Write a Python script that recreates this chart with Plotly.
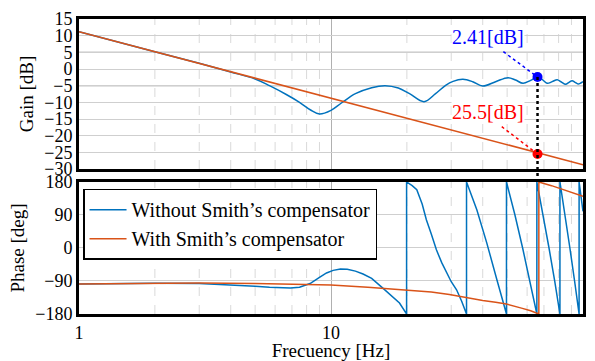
import numpy as np
import plotly.graph_objects as go

# ---------------- data ----------------
freq_gain_blue = [1, 2, 3, 4, 5, 5.7, 6.7, 7.5, 8.3, 9.0, 10, 11, 12.5, 14.5, 16.4,
                  18.5, 20.5, 23.4, 26, 28.5, 30.5, 33.4, 36.5, 40, 45, 50.4, 54,
                  57.8, 62, 66, 69, 72, 75.5, 79, 82, 85.3, 88, 90.5, 93, 95.6, 98, 100]
gain_blue = [11.2, 5.2, 1.7, -0.9, -3.0, -5.0, -7.8, -10.0, -12.3, -13.5, -12.4, -10.2,
             -7.4, -5.6, -5.0, -5.7, -7.4, -9.8, -7.4, -4.9, -3.7, -3.1, -3.8, -5.1,
             -3.8, -2.6, -3.3, -4.3, -3.4, -2.41, -3.2, -4.3, -3.8, -3.2, -3.9, -4.6,
             -4.0, -3.5, -4.0, -4.5, -4.2, -3.8]

freq_gain_red = [1, 10, 100]
gain_red = [11.2, -8.75, -28.7]

freq_phase_blue = [1, 1.5, 2, 3, 4, 5, 5.7, 6.9, 7.5, 8.26, 9.0, 9.6, 10.2, 10.9, 11.6,
                   12.5, 13.4, 14.5, 16.1, 17.2, 18.7, 19.95,
                   19.95, 21, 21.9, 23, 23.9, 25, 26.2, 27.5, 28.8, 30, 31.5, 33, 34.5,
                   34.5, 37.9, 41.5, 45.5, 49.7,
                   49.7, 53.7, 57.6, 61.6, 65.6,
                   65.6, 69.5, 73.3, 77.2, 81.0,
                   81.0, 84.9, 88.7, 92.6, 96.5,
                   96.5, 100]
phase_blue = [-98, -96.5, -96, -97, -100, -104, -107, -109, -107, -97, -80, -68, -61, -57, -58,
              -63, -71, -83, -110, -127, -150, -180,
              180, 170, 159, 120, 77, 38, -5, -40, -69, -92, -114, -145, -180,
              180, 104, 14, -86, -180,
              180, 90, 0, -90, -180,
              180, 90, 0, -90, -180,
              180, 90, 0, -90, -180,
              180, 100]

freq_phase_red = [1, 2, 3, 5, 7.5, 10, 14, 18.7, 20, 25, 29.5, 34.5, 40, 45, 49.7, 57,
                  62, 66.8, 66.8, 75, 85, 100]
phase_red = [-98, -95.5, -95.5, -96.5, -98, -101, -107, -113, -114, -120, -127, -136,
             -143, -148, -153, -164, -171, -180, 180, 170, 157, 141]

f_mark = 66
mark_gain_blue = -2.41
mark_gain_red = -25.5
label_blue = "2.41[dB]"
label_red = "25.5[dB]"

x_ticks = [1, 10, 100]
gain_ticks = [15, 10, 5, 0, -5, -10, -15, -20, -25, -30]
phase_ticks = [180, 90, 0, -90, -180]
minor_freqs = [2, 3, 4, 5, 6, 7, 8, 9, 20, 30, 40, 50, 60, 70, 80, 90]
dark_gain_grid = [5, -5]

# ---------------- styles ----------------
BLUE = "#0072BD"
RED = "#D95319"
FONT = "Liberation Serif"
top_dom = [0.4915, 1.0]
bot_dom = [0.0, 0.4475]

fig = go.Figure()

# gain traces
fig.add_trace(go.Scatter(x=freq_gain_blue, y=gain_blue, mode="lines",
                         line=dict(color=BLUE, width=1.5, shape="spline", smoothing=1.0),
                         xaxis="x", yaxis="y", showlegend=False))
fig.add_trace(go.Scatter(x=freq_gain_red, y=gain_red, mode="lines",
                         line=dict(color=RED, width=1.5),
                         xaxis="x", yaxis="y", showlegend=False))

# phase traces
fig.add_trace(go.Scatter(x=freq_phase_blue, y=phase_blue, mode="lines",
                         line=dict(color=BLUE, width=1.5),
                         name="Without Smith’s compensator",
                         xaxis="x2", yaxis="y2", showlegend=True))
fig.add_trace(go.Scatter(x=freq_phase_red, y=phase_red, mode="lines",
                         line=dict(color=RED, width=1.5),
                         name="With Smith’s compensator",
                         xaxis="x2", yaxis="y2", showlegend=True))

# connector dotted lines from labels to marker points
lbl_blue_anchor = (48.3, 5.2)
lbl_red_anchor = (47.6, -17.3)
fig.add_trace(go.Scatter(x=[lbl_blue_anchor[0], f_mark], y=[lbl_blue_anchor[1], mark_gain_blue],
                         mode="lines", line=dict(color="#0000ff", width=1.5, dash="dot"),
                         xaxis="x", yaxis="y", showlegend=False))
fig.add_trace(go.Scatter(x=[lbl_red_anchor[0], f_mark], y=[lbl_red_anchor[1], mark_gain_red],
                         mode="lines", line=dict(color="#ff0000", width=1.5, dash="dot"),
                         xaxis="x", yaxis="y", showlegend=False))

# vertical black dotted marker line (paper coords)
xp = np.log10(f_mark) / 2.0
yp_dot = top_dom[0] + (mark_gain_blue + 30) / 45 * (top_dom[1] - top_dom[0])
shapes = [dict(type="line", xref="paper", yref="paper", x0=xp, x1=xp,
               y0=yp_dot, y1=bot_dom[1], line=dict(color="black", width=2.5, dash="dot"),
               layer="above")]

# minor vertical grid
for f in minor_freqs:
    xpf = np.log10(f) / 2.0
    for dom in (top_dom, bot_dom):
        shapes.append(dict(type="line", xref="paper", yref="paper", x0=xpf, x1=xpf,
                           y0=dom[0], y1=dom[1],
                           line=dict(color="#d9d9d9", width=1, dash="dash"), layer="below"))
# darker horizontal grid lines
for g in dark_gain_grid:
    shapes.append(dict(type="line", xref="x domain", yref="y", x0=0, x1=1, y0=g, y1=g,
                       line=dict(color="#8c8c8c", width=1.2), layer="below"))

# markers
fig.add_trace(go.Scatter(x=[f_mark], y=[mark_gain_blue], mode="markers",
                         marker=dict(color="#0000ff", size=10),
                         xaxis="x", yaxis="y", showlegend=False))
fig.add_trace(go.Scatter(x=[f_mark], y=[mark_gain_red], mode="markers",
                         marker=dict(color="#ff0000", size=10),
                         xaxis="x", yaxis="y", showlegend=False))

annotations = [
    dict(x=np.log10(42), y=9.7, xref="x", yref="y", text=label_blue, showarrow=False,
         font=dict(family=FONT, size=20, color="#0000ff"), bgcolor="white",
         xanchor="center", yanchor="middle", borderpad=0),
    dict(x=np.log10(42), y=-12.8, xref="x", yref="y", text=label_red, showarrow=False,
         font=dict(family=FONT, size=20, color="#ff0000"), bgcolor="white",
         xanchor="center", yanchor="middle", borderpad=0),
]

axis_common = dict(showline=True, mirror=True, linewidth=3, linecolor="black",
                   ticks="", zeroline=False, automargin=False,
                   tickfont=dict(family=FONT, size=18, color="black"))

fig.update_layout(
    width=595, height=361,
    margin=dict(l=79, r=12, t=19, b=47),
    paper_bgcolor="white", plot_bgcolor="white",
    font=dict(family=FONT, size=18, color="black"),
    xaxis=dict(domain=[0, 1], type="log", range=[0, 2], anchor="y",
               showticklabels=False, showgrid=True, gridcolor="#b0b0b0", gridwidth=1,
               tickvals=x_ticks, **axis_common),
    yaxis=dict(domain=top_dom, range=[-30, 15], tickvals=gain_ticks, anchor="x",
               showgrid=True, gridcolor="#cfcfcf", gridwidth=1,
               title=dict(text="Gain [dB]", font=dict(family=FONT, size=19), standoff=6),
               **axis_common),
    xaxis2=dict(domain=[0, 1], type="log", range=[0, 2], anchor="y2",
                tickvals=x_ticks, ticktext=[str(v) for v in x_ticks],
                showgrid=True, gridcolor="#b0b0b0", gridwidth=1,
                title=dict(text="Frecuency [Hz]", font=dict(family=FONT, size=19), standoff=2),
                **axis_common),
    yaxis2=dict(domain=bot_dom, range=[-180, 180], tickvals=phase_ticks, anchor="x2",
                showgrid=True, gridcolor="#cfcfcf", gridwidth=1,
                title=dict(text="Phase [deg]", font=dict(family=FONT, size=19), standoff=6),
                **axis_common),
    legend=dict(x=0.008, y=0.425, xanchor="left", yanchor="top",
                bgcolor="white", bordercolor="black", borderwidth=1.5,
                font=dict(family=FONT, size=20, color="black"),
                tracegroupgap=0, itemwidth=37),
    shapes=shapes,
    annotations=annotations,
)

fig.write_html("out.html")
